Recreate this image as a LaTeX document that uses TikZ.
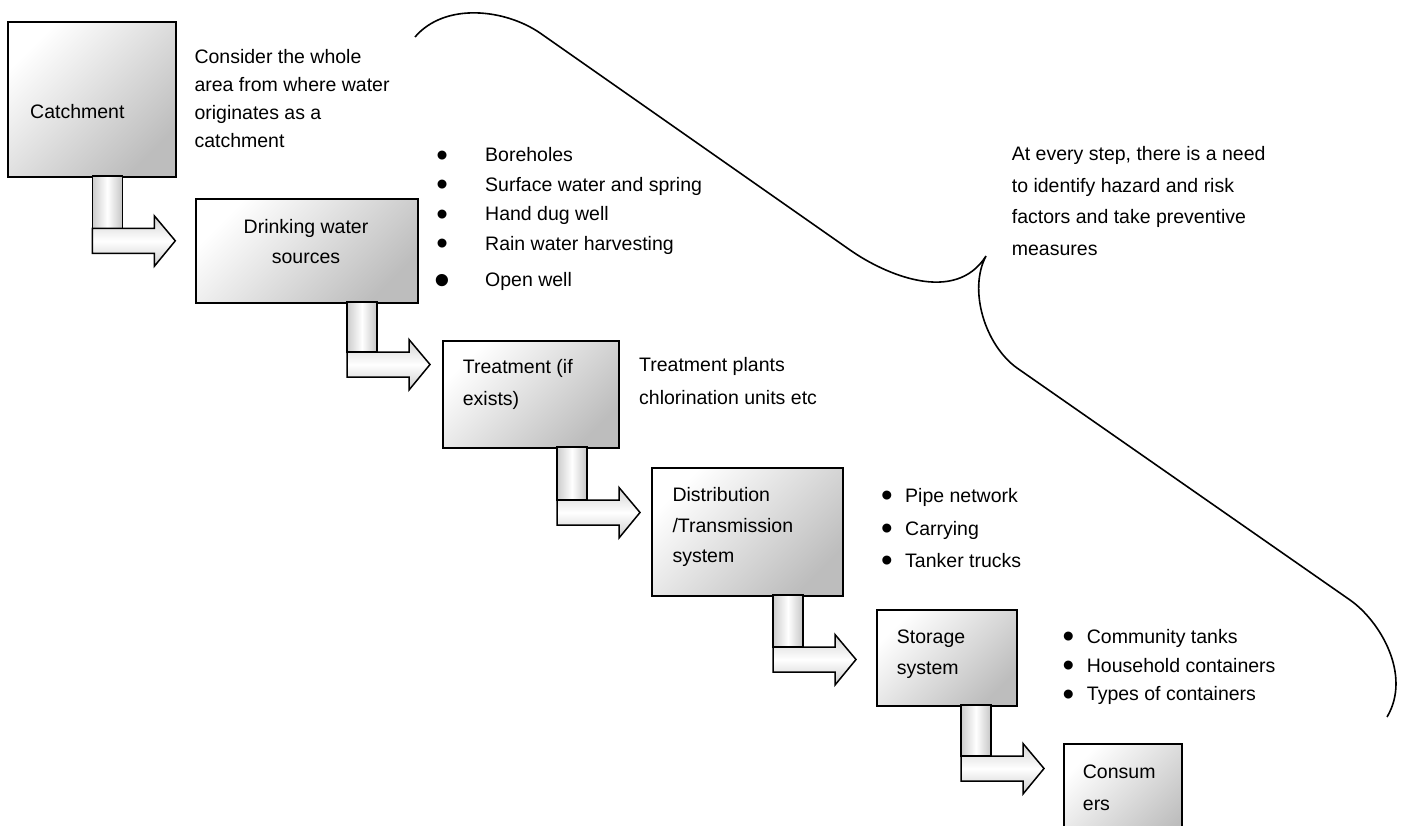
\documentclass[tikz,border=0pt]{standalone}
\usepackage{fontspec}
\setmainfont{Liberation Sans}
\newcommand\fs[1]{\fontsize{19.5}{#1}\selectfont}
\newcommand\fl{\rule{0pt}{14.5pt}}
\newcommand\bul[1]{\makebox[#1][l]{\hspace*{-2.4pt}\smash{\raisebox{-4.2pt}{\fontsize{33}{33}\selectfont •}}}}
\newcommand\bigbul[1]{\makebox[#1][l]{\hspace*{-4.6pt}\smash{\raisebox{-8.4pt}{\fontsize{45}{45}\selectfont •}}}}
\newcommand\bentarrow[3]{%
  \pgfmathsetmacro\xa{#1+30}\pgfmathsetmacro\xb{#1+62}\pgfmathsetmacro\xc{#1+83}%
  \pgfmathsetmacro\yb{#3+25}\pgfmathsetmacro\ym{#3+12.5}\pgfmathsetmacro\yh{#3-12.5}\pgfmathsetmacro\yl{#3+38}%
  \path[stemsh] (#1,#2) rectangle (\xa,#3);
  \path[barsh] (#1,#3) -- (\xb,#3) -- (\xb,\yh) -- (\xc,\ym) -- (\xb,\yl) -- (\xb,\yb) -- (#1,\yb) -- cycle;
}
\tikzset{
  box/.style={draw=black, line width=1.6pt, top color=white, bottom color=gray!52,
    shading angle=45, anchor=north west, inner sep=0pt},
  stemsh/.style={draw=black, line width=1.5pt, left color=gray!40, right color=gray!45, middle color=white},
  barsh/.style={draw=black, line width=1.5pt, top color=gray!35, bottom color=gray!40, middle color=white, line join=miter},
  txt/.style={inner sep=0pt, anchor=north west, align=left},
  brace/.style={draw=black, line width=1.6pt},
}
\begin{document}
\begin{tikzpicture}[x=1pt,y=-1pt]
\path[use as bounding box, fill=white] (0,0) rectangle (1405,826);
\clip (0,0) rectangle (1405,826);

% boxes
\node[box, minimum width=168pt, minimum height=155pt] (catch) at (7,21) {};
\node[box, minimum width=222pt, minimum height=104pt] (dws) at (195,198) {};
\node[box, minimum width=176pt, minimum height=107pt] (treat) at (442,340) {};
\node[box, minimum width=191pt, minimum height=128pt] (dist) at (651,467) {};
\node[box, minimum width=140pt, minimum height=96pt] (stor) at (876,609) {};
\node[box, minimum width=118pt, minimum height=110pt] (cons) at (1063,743) {};

% bent arrows
\bentarrow{92.3}{176}{228.3}
\bentarrow{347}{302}{352}
\bentarrow{557}{447}{500}
\bentarrow{773}{595}{647}
\bentarrow{961}{705}{756}

% box labels
\node[txt, font=\fs{28}] (catchT) at (30,103.5) {\fl Catchment};
\node[txt, font=\fs{30}, anchor=north, align=center] (dwsT) at (306,218.5) {\fl Drinking water\\sources};
\node[txt, font=\fs{31.7}] (treatT) at (462.7,358.8) {\fl Treatment (if\\exists)};
\node[txt, font=\fs{30.5}] (distT) at (672.3,487.2) {\fl Distribution\\/Transmission\\system};
\node[txt, font=\fs{30.7}] (storT) at (896.7,628.8) {\fl Storage\\system};
\node[txt, font=\fs{31.7}] (consT) at (1082.7,763.8) {\fl Consum\\ers};

% side notes
\node[txt, font=\fs{28}] (consider) at (194.3,48.5) {\fl Consider the whole\\area from where water\\originates as a\\catchment};
\node[txt, font=\fs{29.5}] (srcList) at (438.6,147.2) {\fl\bul{46.4pt}Boreholes\\
  \bul{46.4pt}Surface water and spring\\
  \bul{46.4pt}Hand dug well\\
  \bul{46.4pt}Rain water harvesting\\[7pt]
  \bigbul{46.4pt}Open well};
\node[txt, font=\fs{32.3}] (treatNote) at (639,357.2) {\fl Treatment plants\\chlorination units etc};
\node[txt, font=\fs{32.5}] (distList) at (883.3,487.8) {\fl\bul{21.7pt}Pipe network\\
  \bul{21.7pt}Carrying\\
  \bul{21.7pt}Tanker trucks};
\node[txt, font=\fs{28.7}] (storList) at (1064.9,628.8) {\fl\bul{21.8pt}Community tanks\\
  \bul{21.8pt}Household containers\\
  \bul{21.8pt}Types of containers};
\node[txt, font=\fs{31.5}] (stepNote) at (1011.7,146.2) {\fl At every step, there is a need\\to identify hazard and risk\\factors and take preventive\\measures};

% brace
\path[brace] (415,37) .. controls (445,2) and (505,9) .. (540,33)
  -- (850,250) .. controls (885,274.5) and (955,305) .. (986,256)
  .. controls (968,290) and (985,345) .. (1017,368)
  -- (1350,600) .. controls (1380,621) and (1412,675) .. (1387,717);
\end{tikzpicture}
\end{document}
